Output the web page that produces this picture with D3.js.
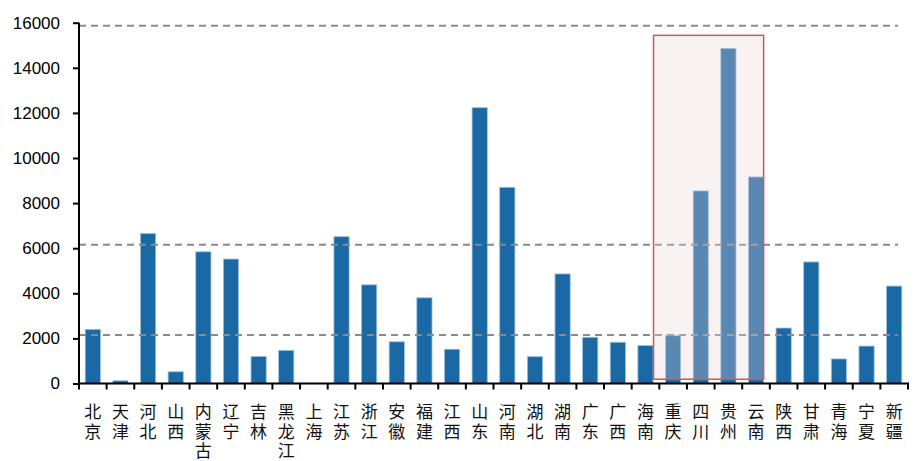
<!DOCTYPE html>
<html>
<head>
<meta charset="utf-8">
<script src="https://cdn.jsdelivr.net/npm/d3@7"></script>
<style>
  html, body { margin: 0; padding: 0; background: #fff; }
  svg { display: block; }
</style>
</head>
<body>
<svg id="chart" width="915" height="461"></svg>
<script>
// ---- data ----
const provinces = ["北京","天津","河北","山西","内蒙古","辽宁","吉林","黑龙江","上海","江苏",
  "浙江","安徽","福建","江西","山东","河南","湖北","湖南","广东","广西",
  "海南","重庆","四川","贵州","云南","陕西","甘肃","青海","宁夏","新疆"];
const values = [2400, 120, 6650, 520, 5840, 5520, 1200, 1470, 0, 6510,
  4375, 1850, 3800, 1520, 12230, 8700, 1190, 4860, 2050, 1830,
  1680, 2120, 8540, 14865, 9160, 2460, 5390, 1090, 1660, 4320];
const yTicks = [0, 2000, 4000, 6000, 8000, 10000, 12000, 14000, 16000];
const refLines = [15870, 6150, 2150];
const highlightFrom = "重庆";
const highlightTo = "云南";
const highlightRange = [190, 15440];

// ---- layout ----
const svg = d3.select("#chart");
const pLeft = 79, pRight = 908, pTop = 22.7, pBottom = 383.5;

const x = d3.scaleBand().domain(provinces).range([pLeft, pRight])
  .paddingInner(0.45).paddingOuter(0.225);
const y = d3.scaleLinear().domain([0, 16000]).range([pBottom, pTop]);
const step = x.step();

// bars
svg.append("g").selectAll("rect").data(provinces).join("rect")
  .attr("x", d => x(d))
  .attr("width", x.bandwidth())
  .attr("y", (d, i) => y(values[i]))
  .attr("height", (d, i) => pBottom - y(values[i]))
  .attr("fill", "#1a69a4")
  .attr("stroke", "#9cc1e0")
  .attr("stroke-width", 0.8)
  .attr("opacity", (d, i) => values[i] > 0 ? 1 : 0);

// dashed reference lines
svg.append("g").selectAll("line").data(refLines).join("line")
  .attr("x1", pLeft).attr("x2", pRight - 10)
  .attr("y1", d => y(d)).attr("y2", d => y(d))
  .attr("stroke", "#8a8a8a").attr("stroke-width", 2)
  .attr("stroke-dasharray", "7,5");

// highlight box
const hx0 = x(highlightFrom) - 12;
const hx1 = x(highlightTo) + x.bandwidth();
svg.append("rect")
  .attr("x", hx0).attr("y", y(highlightRange[1]))
  .attr("width", hx1 - hx0)
  .attr("height", y(highlightRange[0]) - y(highlightRange[1]))
  .attr("fill", "rgba(235,212,212,0.3)")
  .attr("stroke", "#cc5a5a").attr("stroke-width", 1.5);

// y axis
const yAxis = d3.axisLeft(y).tickValues(yTicks).tickFormat(d3.format("d"))
  .tickSize(6).tickPadding(13);
const gy = svg.append("g").attr("transform", `translate(${pLeft},0)`).call(yAxis);
gy.select(".domain").attr("stroke", "#000").attr("stroke-width", 2)
  .attr("d", `M0,${pBottom}V${pTop}`);
gy.selectAll(".tick line").attr("stroke", "#000").attr("stroke-width", 2);
gy.selectAll(".tick text")
  .attr("font-family", "Liberation Sans, Arial, sans-serif")
  .attr("font-size", 17).attr("fill", "#000");

// x axis line and boundary ticks
svg.append("line").attr("x1", pLeft - 1).attr("x2", pRight + 1)
  .attr("y1", pBottom).attr("y2", pBottom)
  .attr("stroke", "#000").attr("stroke-width", 2);
svg.append("g").selectAll("line").data(d3.range(provinces.length + 1)).join("line")
  .attr("x1", i => pLeft + i * step).attr("x2", i => pLeft + i * step)
  .attr("y1", pBottom).attr("y2", pBottom + 6)
  .attr("stroke", "#000").attr("stroke-width", 2);

// x labels (vertical stacked characters)
const lab = svg.append("g").selectAll("text").data(provinces).join("text")
  .attr("font-family", "Noto Sans CJK SC, sans-serif")
  .attr("font-size", 17).attr("fill", "#111")
  .attr("text-anchor", "middle");
lab.each(function(d) {
  const cx = x(d) + x.bandwidth() / 2;
  const t = d3.select(this);
  Array.from(d).forEach((ch, k) => {
    t.append("tspan").attr("x", cx).attr("y", 418 + k * 19.5).text(ch);
  });
});
</script>
</body>
</html>
